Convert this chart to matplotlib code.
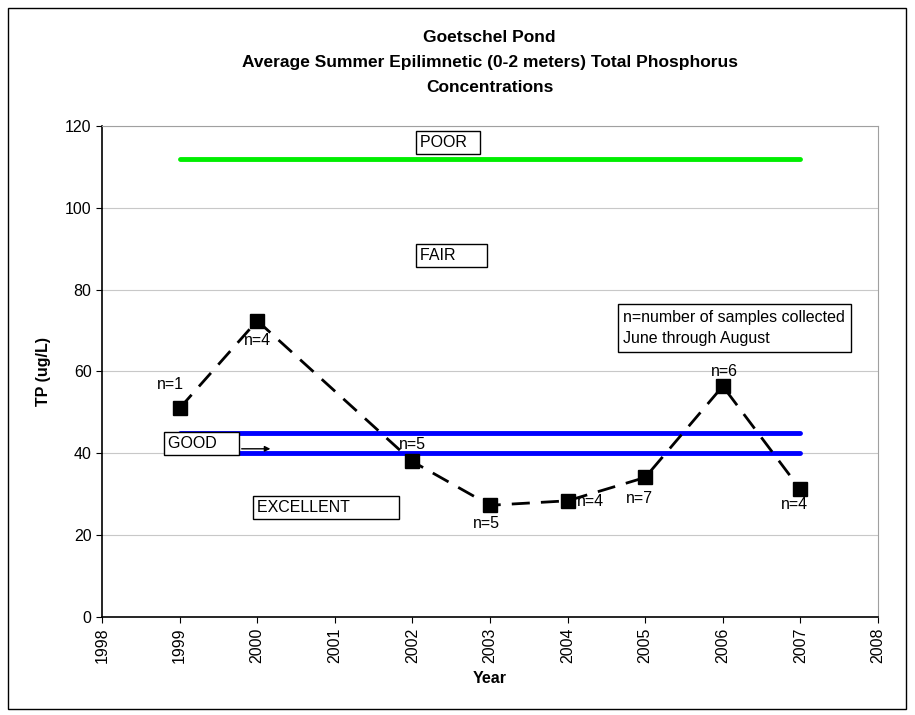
import matplotlib.pyplot as plt
from matplotlib.patches import Rectangle

plt.rcParams["font.family"] = ["Liberation Sans", "DejaVu Sans"]

years = [1999, 2000, 2002, 2003, 2004, 2005, 2006, 2007]
tp = [51.0, 72.4, 38.0, 27.3, 28.4, 34.1, 56.4, 31.2]
n_labels = ["n=1", "n=4", "n=5", "n=5", "n=4", "n=7", "n=6", "n=4"]
label_pos = [(1998.88, 56.8), (2000.0, 67.6), (2002.0, 42.2), (2002.96, 22.9),
             (2004.3, 28.3), (2004.92, 29.0), (2006.02, 60.0), (2006.92, 27.6)]

poor_line = 112
good_upper = 45
good_lower = 40
line_span = [1999, 2007]

fig = plt.figure(figsize=(9.15, 7.15), dpi=100)
ax = fig.add_axes([0.1115, 0.137, 0.848, 0.687])

# border round the whole chart
fig.patches.append(Rectangle((0.009, 0.008), 0.981, 0.981, transform=fig.transFigure,
                             fill=False, edgecolor="black", linewidth=1))

for y in range(20, 121, 20):
    ax.axhline(y, color="#c8c8c8", linewidth=0.8, zorder=0)

ax.plot(line_span, [poor_line] * 2, color="#00ee00", linewidth=3.5, solid_capstyle="round")
ax.plot(line_span, [good_upper] * 2, color="#0000ff", linewidth=3.5, solid_capstyle="round")
ax.plot(line_span, [good_lower] * 2, color="#0000ff", linewidth=3.5, solid_capstyle="round")

ax.plot(years, tp, color="black", linestyle=(0, (6.5, 4)), linewidth=2,
        marker="s", markersize=9.5, zorder=5)

for lab, (x, y) in zip(n_labels, label_pos):
    ax.text(x, y, lab, ha="center", va="center", fontsize=11.5, zorder=6)

box = dict(boxstyle="square,pad=0.25", facecolor="white", edgecolor="black", linewidth=1)
ax.text(2002.1, 115.9, "POOR  ", fontsize=11.5, va="center", ha="left", bbox=box)
ax.text(2002.1, 88.3, "FAIR      ", fontsize=11.5, va="center", ha="left", bbox=box)
ax.text(1998.85, 42.4, "GOOD    ", fontsize=11.5, va="center", ha="left", bbox=box, zorder=7)
ax.text(2000.0, 26.8, "EXCELLENT          ", fontsize=11.5, va="center", ha="left", bbox=box)
ax.text(2004.72, 70.6, "n=number of samples collected\nJune through August", fontsize=11.5,
        va="center", ha="left", linespacing=1.55,
        bbox=dict(boxstyle="square,pad=0.35", facecolor="white", edgecolor="black", linewidth=1))
ax.annotate("", xy=(2000.17, 41.1), xytext=(1999.8, 41.1),
            arrowprops=dict(arrowstyle="-|>", color="black", linewidth=1, mutation_scale=8,
                            shrinkA=0, shrinkB=0), zorder=8)

ax.set_xlim(1998, 2008)
ax.set_ylim(0, 120)
ax.set_xticks(range(1998, 2009))
ax.set_xticklabels([str(y) for y in range(1998, 2009)], rotation=90, fontsize=11.5)
ax.set_yticks(range(0, 121, 20))
ax.tick_params(axis="y", labelsize=11.5, direction="out", length=4)
ax.tick_params(axis="x", direction="out", length=4)

for side in ["top", "right"]:
    ax.spines[side].set_color("#a0a0a0")
ax.spines["left"].set_linewidth(1.2)
ax.spines["bottom"].set_linewidth(1.2)

ax.set_xlabel("Year", fontsize=11.5, fontweight="bold", labelpad=6)
ax.set_ylabel("TP (ug/L)", fontsize=11.5, fontweight="bold", labelpad=10)

fig.text(0.535, 0.948, "Goetschel Pond", ha="center", va="center", fontsize=12.5, fontweight="bold")
fig.text(0.535, 0.913, "Average Summer Epilimnetic (0-2 meters) Total Phosphorus",
         ha="center", va="center", fontsize=12.5, fontweight="bold")
fig.text(0.535, 0.877, "Concentrations", ha="center", va="center", fontsize=12.5, fontweight="bold")

fig.savefig("out.png", dpi=100)
